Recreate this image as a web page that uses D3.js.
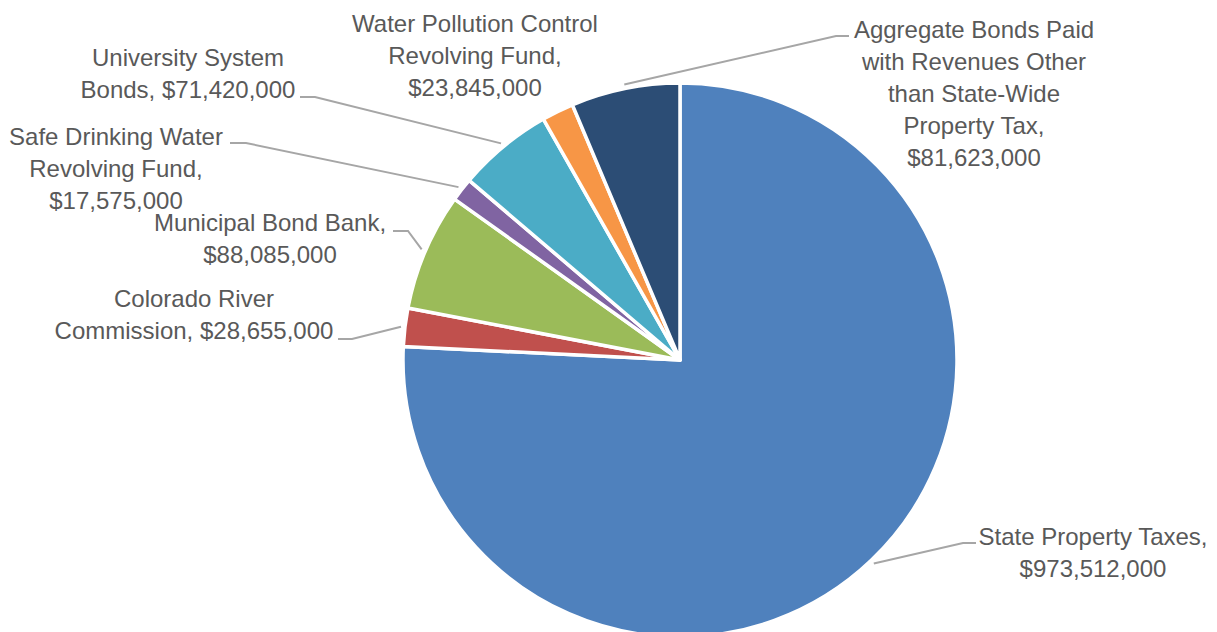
<!DOCTYPE html>
<html>
<head>
<meta charset="utf-8">
<script src="https://cdn.jsdelivr.net/npm/d3@7"></script>
<style>
  body { margin: 0; background: #fff; }
</style>
</head>
<body>
<div id="chart"></div>
<script>
// data
const categories = [
  "State Property Taxes",
  "Colorado River Commission",
  "Municipal Bond Bank",
  "Safe Drinking Water Revolving Fund",
  "University System Bonds",
  "Water Pollution Control Revolving Fund",
  "Aggregate Bonds Paid with Revenues Other than State-Wide Property Tax"
];
const values = [973512000, 28655000, 88085000, 17575000, 71420000, 23845000, 81623000];
const colors = ["#4F81BD", "#C0504D", "#9BBB59", "#8064A2", "#4BACC6", "#F79646", "#2C4D75"];

// how many words go on each label line (name + value)
const lineWords = [[3, 1], [2, 2], [3, 1], [3, 2, 1], [2, 2], [3, 2, 1], [3, 3, 2, 2, 1]];

// label layout: centre x, first line centre y, leader elbow (null = no leader)
const labelPos = [
  { x: 1093, y: 537, elbow: [963, 543], end: [976, 543] },
  { x: 194, y: 299, elbow: [352, 339], end: [338, 339] },
  { x: 270, y: 223, elbow: [408, 231], end: [393, 231] },
  { x: 116, y: 137, elbow: [246, 143], end: [230, 143] },
  { x: 188, y: 58, elbow: [315, 97], end: [300, 97] },
  { x: 475, y: 24, elbow: null, end: null },
  { x: 974, y: 30, elbow: [836, 36], end: [849, 36] }
];

const width = 1217, height = 632;
const cx = 680, cy = 360, radius = 277;
const lineH = 32;

const svg = d3
  .select("#chart")
  .append("svg")
  .attr("width", width)
  .attr("height", height)
  .style("font-family", "'Liberation Sans', Arial, sans-serif");

const g = svg.append("g").attr("transform", `translate(${cx}, ${cy})`);

const pie = d3.pie().sort(null).value((d) => d);
const arcs = pie(values);

const arc = d3.arc().innerRadius(0).outerRadius(radius);
const outerArc = d3.arc().innerRadius(radius + 4).outerRadius(radius + 4);

// slices
g.selectAll("path.slice")
  .data(arcs)
  .join("path")
  .attr("class", "slice")
  .attr("d", arc)
  .attr("fill", (d, i) => colors[i])
  .attr("stroke", "#fff")
  .attr("stroke-width", 3.5)
  .attr("stroke-linejoin", "round");

// leader lines
const fmt = d3.format("$,");
arcs.forEach(function (d, i) {
  const p = labelPos[i];
  if (!p.elbow) return;
  const start = outerArc.centroid(d);
  const pts = [
    [start[0] + cx, start[1] + cy],
    p.elbow,
    p.end
  ];
  svg
    .append("polyline")
    .attr("points", pts.map((q) => q.join(",")).join(" "))
    .attr("fill", "none")
    .attr("stroke", "#A6A6A6")
    .attr("stroke-width", 2);
});

// labels
categories.forEach(function (name, i) {
  const tokens = (name + ", " + fmt(values[i])).split(" ");
  const lines = [];
  let k = 0;
  for (const n of lineWords[i]) {
    lines.push(tokens.slice(k, k + n).join(" "));
    k += n;
  }
  const p = labelPos[i];
  const t = svg
    .append("text")
    .attr("text-anchor", "middle")
    .attr("font-size", "24px")
    .attr("fill", "#595959");
  lines.forEach(function (l, j) {
    t.append("tspan")
      .attr("x", p.x)
      .attr("y", p.y + j * lineH)
      .attr("dy", "0.35em")
      .text(l);
  });
});
</script>
</body>
</html>
